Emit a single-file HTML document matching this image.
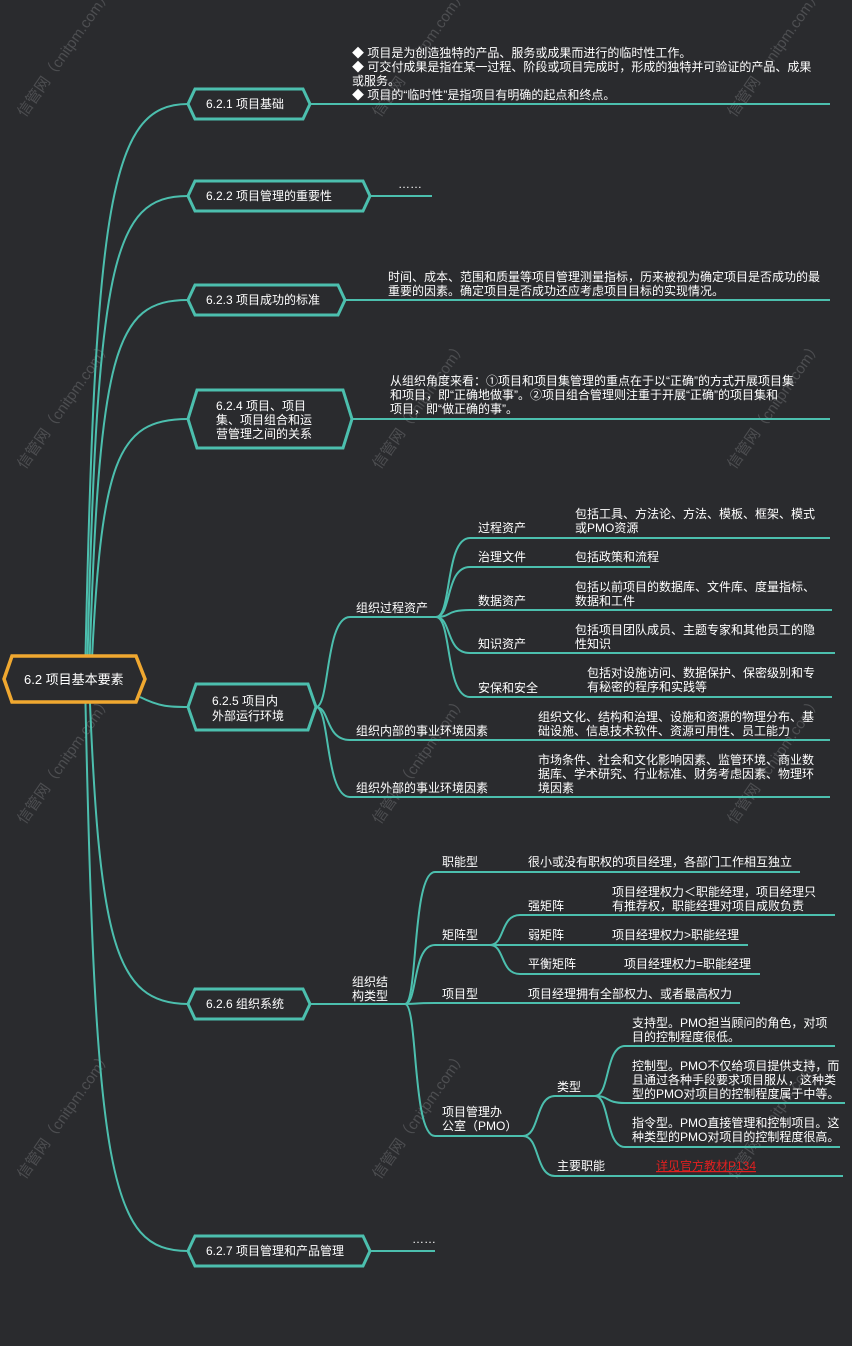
<!DOCTYPE html>
<html><head><meta charset="utf-8"><style>
html,body{margin:0;padding:0;background:#2a2b2e;}
svg{display:block;}
text{font-family:"Liberation Sans","Noto Sans CJK SC",sans-serif;fill:#fff;font-size:12px;}
.n{font-size:12px;}
.w{fill:#6a6b6e;font-size:15px;opacity:.55;}
</style></head><body>
<svg width="852" height="1346" viewBox="0 0 852 1346" xmlns="http://www.w3.org/2000/svg">
<rect width="852" height="1346" fill="#2a2b2e"/>
<!-- watermarks -->
<g>
<text class="w" transform="translate(25,118) rotate(-55)">信管网（cnitpm.com）</text>
<text class="w" transform="translate(380,118) rotate(-55)">信管网（cnitpm.com）</text>
<text class="w" transform="translate(735,118) rotate(-55)">信管网（cnitpm.com）</text>
<text class="w" transform="translate(25,470) rotate(-55)">信管网（cnitpm.com）</text>
<text class="w" transform="translate(380,470) rotate(-55)">信管网（cnitpm.com）</text>
<text class="w" transform="translate(735,470) rotate(-55)">信管网（cnitpm.com）</text>
<text class="w" transform="translate(25,825) rotate(-55)">信管网（cnitpm.com）</text>
<text class="w" transform="translate(380,825) rotate(-55)">信管网（cnitpm.com）</text>
<text class="w" transform="translate(735,825) rotate(-55)">信管网（cnitpm.com）</text>
<text class="w" transform="translate(25,1180) rotate(-55)">信管网（cnitpm.com）</text>
<text class="w" transform="translate(380,1180) rotate(-55)">信管网（cnitpm.com）</text>
<text class="w" transform="translate(735,1180) rotate(-55)">信管网（cnitpm.com）</text>
</g>
<g fill="none" stroke="#4cbfae" stroke-width="2">
<!-- spines -->
<path d="M85 679 C 95 200, 110 104, 188 104"/>
<path d="M87 679 C 97 260, 112 196, 188 196"/>
<path d="M89 679 C 99 350, 114 300, 188 300"/>
<path d="M91 679 C 101 460, 116 419, 188 419"/>
<path d="M140 697 C 160 707, 170 707, 188 707"/>
<path d="M89 679 C 99 940, 114 1004, 188 1004"/>
<path d="M85 679 C 95 1180, 110 1251, 188 1251"/>
<!-- level 1 lines -->
<path d="M310 104 H830"/>
<path d="M370 196 H432"/>
<path d="M345 300 H830"/>
<path d="M352 419 H830"/>
<!-- 6.2.5 -->
<path d="M316 707 C 330 707, 325 617, 350 617 H438"/>
<path d="M316 707 C 330 707, 325 740, 350 740 H830"/>
<path d="M316 707 C 330 707, 325 797, 350 797 H830"/>
<path d="M436 617 C 452 617, 445 538, 470 538 H830"/>
<path d="M436 617 C 452 617, 445 567, 470 567 H650"/>
<path d="M436 617 C 452 617, 445 610, 470 610 H832"/>
<path d="M436 617 C 452 617, 445 653, 470 653 H835"/>
<path d="M436 617 C 452 617, 445 697, 470 697 H832"/>
<!-- 6.2.6 -->
<path d="M310 1004 H405"/>
<path d="M405 1004 C 418 1004, 412 872, 435 872 H800"/>
<path d="M405 1004 C 418 1004, 412 945, 435 945 H490"/>
<path d="M405 1004 C 418 1004, 412 1003, 435 1003 H740"/>
<path d="M405 1004 C 418 1004, 412 1136, 435 1136 H525"/>
<path d="M490 945 C 505 945, 500 915, 520 915 H835"/>
<path d="M490 945 H748"/>
<path d="M490 945 C 505 945, 500 974, 520 974 H760"/>
<path d="M523 1136 C 540 1136, 535 1096, 555 1096 H595"/>
<path d="M523 1136 C 540 1136, 535 1176, 555 1176 H843"/>
<path d="M595 1096 C 610 1096, 605 1046, 625 1046 H835"/>
<path d="M595 1096 C 610 1096, 605 1103, 625 1103 H845"/>
<path d="M595 1096 C 610 1096, 605 1147, 625 1147 H840"/>
<path d="M370 1251 H435"/>
</g>
<!-- nodes -->
<g fill="#2a2b2e" stroke="#4cbfae" stroke-width="3">
<polygon points="195,89 303,89 310,104 303,119 195,119 188,104"/>
<polygon points="195,181 363,181 370,196 363,211 195,211 188,196"/>
<polygon points="195,285 338,285 345,300 338,315 195,315 188,300"/>
<polygon points="197,390 343,390 352,419 343,448 197,448 188,419"/>
<polygon points="196,684 308,684 316,707 308,730 196,730 188,707"/>
<polygon points="195,989 303,989 310,1004 303,1019 195,1019 188,1004"/>
<polygon points="195,1236 363,1236 370,1251 363,1266 195,1266 188,1251"/>
</g>
<polygon points="12,656 136,656 145,679 136,702 12,702 4,679" fill="#2a2b2e" stroke="#f0a830" stroke-width="3.5"/>
<text x="24" y="684" style="font-size:13px">6.2 项目基本要素</text>
<text x="206" y="108">6.2.1 项目基础</text>
<text x="206" y="200">6.2.2 项目管理的重要性</text>
<text x="206" y="304">6.2.3 项目成功的标准</text>
<text x="216" y="410">6.2.4 项目、项目</text>
<text x="216" y="424">集、项目组合和运</text>
<text x="216" y="438">营管理之间的关系</text>
<text x="212" y="705">6.2.5 项目内</text>
<text x="212" y="720">外部运行环境</text>
<text x="206" y="1008">6.2.6 组织系统</text>
<text x="206" y="1255">6.2.7 项目管理和产品管理</text>
<!-- leaf texts -->
<text x="352" y="57">◆ 项目是为创造独特的产品、服务或成果而进行的临时性工作。</text>
<text x="352" y="71">◆ 可交付成果是指在某一过程、阶段或项目完成时，形成的独特并可验证的产品、成果</text>
<text x="352" y="85">或服务。</text>
<text x="352" y="99">◆ 项目的“临时性”是指项目有明确的起点和终点。</text>
<text x="398" y="188">……</text>
<text x="388" y="281">时间、成本、范围和质量等项目管理测量指标，历来被视为确定项目是否成功的最</text>
<text x="388" y="295">重要的因素。确定项目是否成功还应考虑项目目标的实现情况。</text>
<text x="390" y="385">从组织角度来看：①项目和项目集管理的重点在于以“正确”的方式开展项目集</text>
<text x="390" y="399">和项目，即“正确地做事”。②项目组合管理则注重于开展“正确”的项目集和</text>
<text x="390" y="413">项目，即“做正确的事”。</text>
<text x="356" y="612">组织过程资产</text>
<text x="356" y="735">组织内部的事业环境因素</text>
<text x="356" y="792">组织外部的事业环境因素</text>
<text x="478" y="532">过程资产</text>
<text x="478" y="561">治理文件</text>
<text x="478" y="605">数据资产</text>
<text x="478" y="648">知识资产</text>
<text x="478" y="692">安保和安全</text>
<text x="575" y="518">包括工具、方法论、方法、模板、框架、模式</text>
<text x="575" y="532">或PMO资源</text>
<text x="575" y="561">包括政策和流程</text>
<text x="575" y="591">包括以前项目的数据库、文件库、度量指标、</text>
<text x="575" y="605">数据和工件</text>
<text x="575" y="634">包括项目团队成员、主题专家和其他员工的隐</text>
<text x="575" y="648">性知识</text>
<text x="587" y="677">包括对设施访问、数据保护、保密级别和专</text>
<text x="587" y="691">有秘密的程序和实践等</text>
<text x="538" y="721">组织文化、结构和治理、设施和资源的物理分布、基</text>
<text x="538" y="735">础设施、信息技术软件、资源可用性、员工能力</text>
<text x="538" y="764">市场条件、社会和文化影响因素、监管环境、商业数</text>
<text x="538" y="778">据库、学术研究、行业标准、财务考虑因素、物理环</text>
<text x="538" y="792">境因素</text>
<text x="352" y="986">组织结</text>
<text x="352" y="1000">构类型</text>
<text x="442" y="866">职能型</text>
<text x="528" y="866">很小或没有职权的项目经理，各部门工作相互独立</text>
<text x="442" y="939">矩阵型</text>
<text x="528" y="910">强矩阵</text>
<text x="612" y="896">项目经理权力＜职能经理，项目经理只</text>
<text x="612" y="910">有推荐权，职能经理对项目成败负责</text>
<text x="528" y="939">弱矩阵</text>
<text x="612" y="939">项目经理权力&gt;职能经理</text>
<text x="528" y="968">平衡矩阵</text>
<text x="624" y="968">项目经理权力=职能经理</text>
<text x="442" y="998">项目型</text>
<text x="528" y="998">项目经理拥有全部权力、或者最高权力</text>
<text x="442" y="1116">项目管理办</text>
<text x="442" y="1130">公室（PMO）</text>
<text x="557" y="1091">类型</text>
<text x="557" y="1170">主要职能</text>
<text x="632" y="1027">支持型。PMO担当顾问的角色，对项</text>
<text x="632" y="1041">目的控制程度很低。</text>
<text x="632" y="1070">控制型。PMO不仅给项目提供支持，而</text>
<text x="632" y="1084">且通过各种手段要求项目服从，这种类</text>
<text x="632" y="1098">型的PMO对项目的控制程度属于中等。</text>
<text x="632" y="1127">指令型。PMO直接管理和控制项目。这</text>
<text x="632" y="1141">种类型的PMO对项目的控制程度很高。</text>
<text x="656" y="1170" style="fill:#e02020;text-decoration:underline">详见官方教材P134</text>
<text x="412" y="1243">……</text>
</svg>
</body></html>
